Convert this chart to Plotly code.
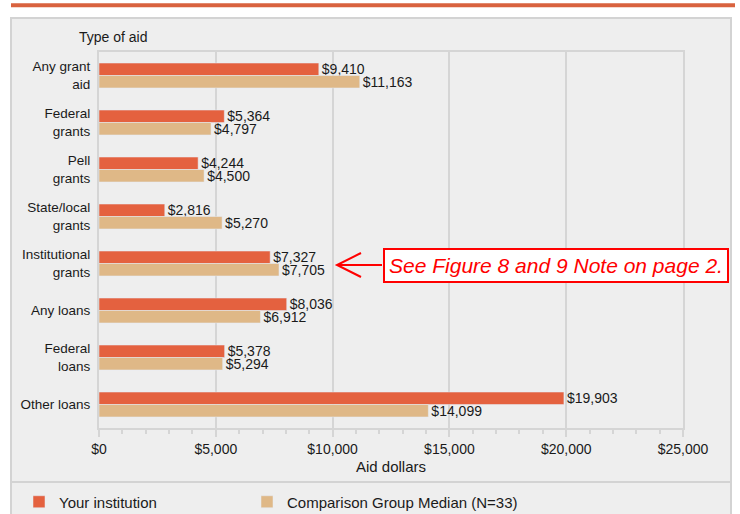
import plotly.graph_objects as go

# data
aid_types = ["Any grant<br>aid", "Federal<br>grants", "Pell<br>grants", "State/local<br>grants",
             "Institutional<br>grants", "Any loans", "Federal<br>loans", "Other loans"]
your_institution = [9410, 5364, 4244, 2816, 7327, 8036, 5378, 19903]
comparison_median = [11163, 4797, 4500, 5270, 7705, 6912, 5294, 14099]
tick_values = [0, 5000, 10000, 15000, 20000, 25000]
tick_labels = ["$0", "$5,000", "$10,000", "$15,000", "$20,000", "$25,000"]

ORANGE = "#E4613F"
TAN = "#DFB887"
GRID = "#D5D5D5"
PANEL = "#EEEEEE"
FONT = "Liberation Sans, Arial, sans-serif"

# plot area in pixels: x 99..683, y 52..428
L, R, T, B = 99, 683, 52, 428
W, H = 740, 514


def px_x(p):
    return (p - L) / (R - L)


def px_y(p):
    return (B - p) / (B - T)


fig = go.Figure()
fig.add_trace(go.Bar(
    y=aid_types, x=your_institution, orientation="h", name="Your institution",
    marker_color=ORANGE, texttemplate="$%{x:,.0f}", textposition="outside",
    constraintext="none", cliponaxis=False, legend="legend", showlegend=True,
    textfont=dict(size=14, color="#1a1a1a", family=FONT),
))
fig.add_trace(go.Bar(
    y=aid_types, x=comparison_median, orientation="h", name="Comparison Group Median (N=33)",
    marker_color=TAN, texttemplate="$%{x:,.0f}", textposition="outside",
    constraintext="none", cliponaxis=False, legend="legend2", showlegend=True,
    textfont=dict(size=14, color="#1a1a1a", family=FONT),
))

shapes = [
    # panel background and border
    dict(type="rect", xref="paper", yref="paper", layer="below",
         x0=px_x(11), x1=px_x(731), y0=px_y(18), y1=px_y(520),
         fillcolor=PANEL, line=dict(color="#D3D3D3", width=2)),
    # separator above the legend
    dict(type="line", xref="paper", yref="paper",
         x0=px_x(11), x1=px_x(731), y0=px_y(482), y1=px_y(482),
         line=dict(color="#D3D3D3", width=2)),
    # orange stripe at the top
    dict(type="rect", xref="paper", yref="paper",
         x0=px_x(11), x1=px_x(735), y0=px_y(3.3), y1=px_y(7.3),
         fillcolor="#D9633F", line=dict(width=0)),
    # red arrow pointing at the institutional grants row
    dict(type="path", xref="paper", yref="paper",
         path=(f"M {px_x(382)} {px_y(265)} L {px_x(337)} {px_y(265)} "
               f"M {px_x(361)} {px_y(253)} L {px_x(337)} {px_y(265)} L {px_x(361)} {px_y(277)}"),
         line=dict(color="#FF0000", width=2)),
]

annotations = [
    dict(text="Type of aid", xref="paper", yref="paper", x=px_x(77), y=px_y(37),
         xanchor="left", yanchor="middle", showarrow=False,
         font=dict(size=14, color="#1a1a1a", family=FONT)),
    dict(text="See Figure 8 and 9 Note on page 2.", xref="paper", yref="paper",
         x=px_x(556), y=px_y(265.5), xanchor="center", yanchor="middle", showarrow=False,
         width=340, height=29, borderpad=1, bordercolor="#FF0000", borderwidth=2,
         bgcolor="white",
         font=dict(size=21, color="#FF0000", family=FONT, style="italic")),
]

legend_style = dict(orientation="h", xanchor="left", yanchor="middle",
                    bgcolor="rgba(0,0,0,0)", visible=True,
                    font=dict(size=15, color="#1a1a1a", family=FONT))

fig.update_layout(
    width=W, height=H, showlegend=True,
    margin=dict(l=L, r=W - R, t=T, b=H - B, pad=0, autoexpand=False),
    paper_bgcolor="white", plot_bgcolor=PANEL,
    barmode="group", bargap=0.47, bargroupgap=0,
    font=dict(family=FONT, size=14, color="#1a1a1a"),
    shapes=shapes, annotations=annotations,
    legend=dict(x=px_x(19), y=px_y(502), **legend_style),
    legend2=dict(x=px_x(247), y=px_y(502), **legend_style),
)
fig.update_xaxes(
    range=[0, 25000], tickvals=tick_values, ticktext=tick_labels,
    showgrid=True, gridcolor=GRID, gridwidth=2,
    showline=True, linecolor=GRID, linewidth=2, mirror=True,
    ticks="outside", ticklen=7, tickwidth=2, tickcolor=GRID,
    minor=dict(dtick=1000, ticks="outside", ticklen=4, tickwidth=2, tickcolor=GRID, showgrid=False),
    tickfont=dict(size=14), zeroline=False, fixedrange=True,
    title=dict(text="Aid dollars", font=dict(size=15), standoff=6),
)
fig.update_yaxes(
    autorange="reversed", showgrid=False,
    showline=True, linecolor=GRID, linewidth=2, mirror=True,
    ticks="", ticklabelstandoff=4, tickfont=dict(size=13.5),
)

# the page has a default 8px body margin; drop it so the figure sits at the corner
fig.write_html("out.html", config={"displayModeBar": False},
               post_script="document.body.style.margin='0';")
